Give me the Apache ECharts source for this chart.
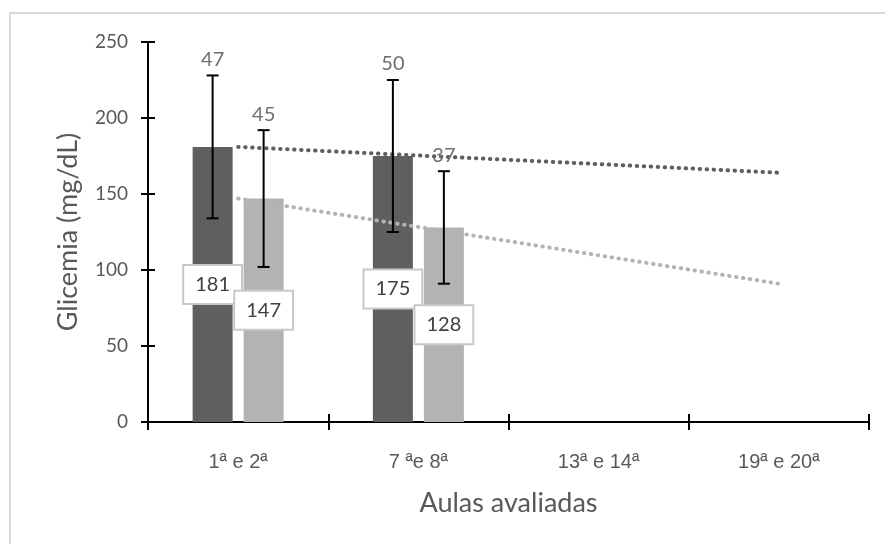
<!DOCTYPE html>
<html>
<head>
<meta charset="utf-8">
<script src="https://cdn.jsdelivr.net/npm/echarts@6/dist/echarts.min.js"></script>
<style>
  html, body { margin: 0; padding: 0; background: #fff; }
  #chart { width: 885px; height: 544px; }
</style>
</head>
<body>
<div id="chart"></div>
<script>
const categories = ['1ª e 2ª', '7 ªe 8ª', '13ª e 14ª', '19ª e 20ª']
const darkValues = [181, 175, null, null]
const lightValues = [147, 128, null, null]
const darkSd = [47, 50, null, null]
const lightSd = [45, 37, null, null]
// trendline ends: [categoryIndex, value]
const darkTrend = [[0, 181], [3, 164]]
const lightTrend = [[0, 147], [3, 91]]
const yTicks = [0, 50, 100, 150, 200, 250]

const DARK = '#5f5f5f'
const LIGHT = '#b3b3b3'
const FONT = 'Lato'
const barWidth = 40
const barGapPx = 11
const half = (barWidth + barGapPx) / 2

function errorSeries(name, values, sds, offset) {
    return {
        name: name,
        type: 'custom',
        z: 5,
        data: values.map((v, i) => v == null ? null : [i, v, sds[i]]).filter(d => d),
        renderItem: (params, api) => {
            const i = api.value(0), v = api.value(1), sd = api.value(2)
            if (isNaN(v) || isNaN(sd)) return null
            const top = api.coord([i, v + sd])
            const bot = api.coord([i, v - sd])
            const x = top[0] + offset
            const style = {stroke: '#000', lineWidth: 2}
            return {
                type: 'group',
                children: [
                    {type: 'line', shape: {x1: x, y1: top[1], x2: x, y2: bot[1]}, style},
                    {type: 'line', shape: {x1: x - 6, y1: top[1], x2: x + 6, y2: top[1]}, style},
                    {type: 'line', shape: {x1: x - 6, y1: bot[1], x2: x + 6, y2: bot[1]}, style},
                    {type: 'text', x: x, y: top[1] - 16, style: {
                        text: String(sd), fill: '#6f6f6f', fontSize: 20, fontFamily: FONT,
                        align: 'center', verticalAlign: 'middle'}}
                ]
            }
        }
    }
}

const boxLabel = {
    show: true,
    position: 'inside',
    color: '#404040',
    fontSize: 20,
    fontFamily: FONT,
    backgroundColor: '#fff',
    borderColor: '#c8c8c8',
    borderWidth: 2,
    padding: [9, 11, 8, 11]
}

const option = {
    backgroundColor: '#fff',
    animation: false,
    grid: {left: 148, right: 16, top: 42, bottom: 122},
    graphic: [
        {type: 'polyline', shape: {points: [[10, 544], [10, 13], [885, 13]]},
         style: {stroke: '#d9d9d9', lineWidth: 2, fill: null}}
    ],
    xAxis: [
        {
            type: 'category',
            data: categories,
            name: 'Aulas avaliadas',
            nameLocation: 'middle',
            nameGap: 68,
            nameTextStyle: {fontSize: 27, color: '#595959', fontFamily: FONT},
            axisLine: {lineStyle: {color: '#000', width: 2}},
            axisTick: {show: true, length: 8, lineStyle: {color: '#000', width: 2}},
            axisLabel: {margin: 30, fontSize: 20, color: '#595959',
                fontFamily: '"Liberation Sans Narrow", "Liberation Sans", sans-serif'}
        },
        {
            type: 'category',
            data: categories,
            position: 'bottom',
            axisLine: {show: false},
            axisTick: {show: true, inside: true, length: 8, lineStyle: {color: '#000', width: 2}},
            axisLabel: {show: false}
        }
    ],
    yAxis: [
        {
            type: 'value',
            min: 0, max: 250, interval: 50,
            name: 'Glicemia (mg/dL)',
            nameLocation: 'middle',
            nameGap: 66,
            nameTextStyle: {fontSize: 27, color: '#595959', fontFamily: FONT},
            axisLine: {show: true, lineStyle: {color: '#000', width: 2}},
            axisTick: {show: true, length: 7, lineStyle: {color: '#000', width: 2}},
            axisLabel: {margin: 20, fontSize: 19, color: '#595959', fontFamily: FONT,
                formatter: v => yTicks.includes(v) ? String(v) : ''},
            splitLine: {show: false}
        },
        {
            type: 'value',
            min: 0, max: 250, interval: 50,
            position: 'left',
            axisLine: {show: false},
            axisTick: {show: true, inside: true, length: 7, lineStyle: {color: '#000', width: 2}},
            axisLabel: {show: false},
            splitLine: {show: false}
        }
    ],
    series: [
        {
            name: 'dark', type: 'bar', data: darkValues, barWidth: barWidth,
            barGap: (barGapPx / barWidth * 100) + '%',
            itemStyle: {color: DARK}, label: boxLabel
        },
        {
            name: 'light', type: 'bar', data: lightValues, barWidth: barWidth,
            itemStyle: {color: LIGHT}, label: boxLabel
        },
        {
            name: 'darkTrend', type: 'line', data: darkTrend, z: 4, symbol: 'none',
            lineStyle: {color: DARK, width: 4, type: [0.5, 6.5], cap: 'round'}
        },
        {
            name: 'lightTrend', type: 'line', data: lightTrend, z: 4, symbol: 'none',
            lineStyle: {color: LIGHT, width: 4, type: [0.5, 6.5], cap: 'round'}
        },
        errorSeries('darkErr', darkValues, darkSd, -half),
        errorSeries('lightErr', lightValues, lightSd, half)
    ]
}

const chart = echarts.init(document.getElementById('chart'))
chart.setOption(option)
</script>
</body>
</html>
